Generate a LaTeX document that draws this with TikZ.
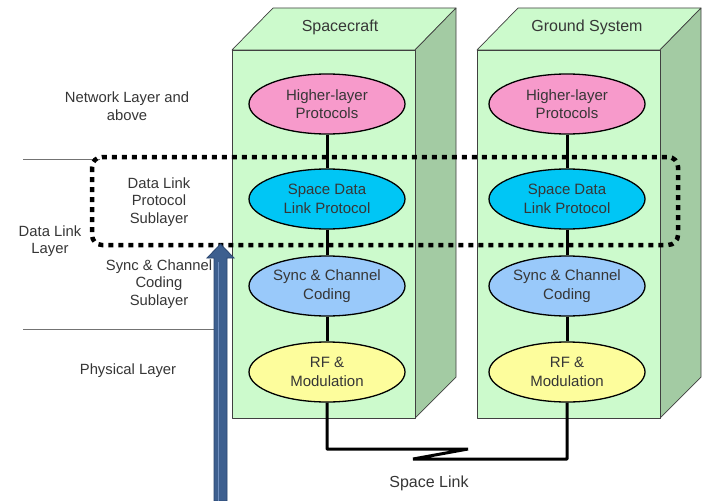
\documentclass[tikz,border=0pt]{standalone}
\usepackage{fontspec}
\setmainfont{Liberation Sans}
\usetikzlibrary{shapes.geometric}
\definecolor{frontg}{HTML}{CCFACC}
\definecolor{sideg}{HTML}{A3CBA3}
\definecolor{pinkc}{HTML}{F79ACB}
\definecolor{cyanc}{HTML}{00C6F5}
\definecolor{lbluec}{HTML}{99C9FA}
\definecolor{yelc}{HTML}{FDFD9C}
\definecolor{txt}{HTML}{363636}
\definecolor{arrowc}{HTML}{3D5F8F}
\definecolor{arrowd}{HTML}{2A4670}
\definecolor{arrowl}{HTML}{7090C0}
\begin{document}
\begin{tikzpicture}[x=1pt,y=-1pt,
  ell/.style={ellipse, draw=black, line width=1.3pt, minimum width=156pt, minimum height=60pt, inner sep=0pt, align=center, font=\fontsize{15}{18.5}\selectfont, text=txt},
  conn/.style={line width=3pt, black},
  lbl/.style={align=center, font=\fontsize{14.8}{17.5}\selectfont, text=txt},
  hdr/.style={font=\fontsize{16}{19}\selectfont, text=txt},
  boxline/.style={draw=black!75, line width=0.7pt, line join=round},
  sepline/.style={draw=black!55, line width=0.8pt}]
\useasboundingbox (0,0) rectangle (703,500);
\fill[white] (0,0) rectangle (703,500);

% Spacecraft box
\filldraw[boxline, fill=frontg] (232,50) -- (273,8) -- (456,8) -- (415,50) -- cycle;
\filldraw[boxline, fill=sideg] (415,50) -- (456,8) -- (456,377) -- (415,418) -- cycle;
\filldraw[boxline, fill=frontg] (232,50) rectangle (415,418);
% Ground box
\filldraw[boxline, fill=frontg] (477,50) -- (518,8) -- (701,8) -- (660,50) -- cycle;
\filldraw[boxline, fill=sideg] (660,50) -- (701,8) -- (701,377) -- (660,418) -- cycle;
\filldraw[boxline, fill=frontg] (477,50) rectangle (660,418);

\node[hdr] (hs) at (340,27) {Spacecraft};
\node[hdr] (hg) at (587,27) {Ground System};

% left separator lines
\draw[sepline] (23,159) -- (100,159);
\draw[sepline] (23,329) -- (214,329);

% left labels
\node[lbl] (l1) at (127,106) {Network Layer and\\above};
\node[lbl] (l2) at (159,202) {Data Link\\Protocol\\Sublayer};
\node[lbl] (l3) at (50,241) {Data Link\\Layer};
\node[lbl] (l4) at (159,284) {Sync \& Channel\\Coding\\Sublayer};
\node[lbl] (l5) at (128,371) {Physical Layer};

% ellipses
\node[ell, fill=pinkc] (sh) at (327,104) {Higher-layer\\Protocols};
\node[ell, fill=cyanc] (sd) at (327,199) {Space Data\\Link Protocol};
\node[ell, fill=lbluec] (ss) at (327,286) {Sync \& Channel\\Coding};
\node[ell, fill=yelc] (sr) at (327,372) {RF \&\\Modulation};
\node[ell, fill=pinkc] (gh) at (567,104) {Higher-layer\\Protocols};
\node[ell, fill=cyanc] (gd) at (567,199) {Space Data\\Link Protocol};
\node[ell, fill=lbluec] (gs) at (567,286) {Sync \& Channel\\Coding};
\node[ell, fill=yelc] (gr) at (567,372) {RF \&\\Modulation};

% connectors
\draw[conn] (sh.south) -- (sd.north);
\draw[conn] (sd.south) -- (ss.north);
\draw[conn] (ss.south) -- (sr.north);
\draw[conn] (gh.south) -- (gd.north);
\draw[conn] (gd.south) -- (gs.north);
\draw[conn] (gs.south) -- (gr.north);

% space link
\coordinate (za) at (468,449);
\coordinate (zb) at (413,459);
\draw[conn, line join=bevel] (sr.south) |- (za) -- (zb) -| (gr.south);
\node[font=\fontsize{16}{19}\selectfont, text=txt] (sl) at (429,483) {Space Link};

% dotted data link box
\draw[line width=4.5pt, black, dash pattern=on 5pt off 5pt, rounded corners=10pt] (92,157) rectangle (678,245);

% blue arrow
\filldraw[fill=arrowc, draw=arrowd, line width=0.8pt, line join=miter]
  (220.5,244) -- (234,258) -- (227,258) -- (227,501) -- (214,501) -- (214,258) -- (207,258) -- cycle;
\draw[arrowl, line width=1pt] (218,262) -- (218,501);
\end{tikzpicture}
\end{document}
